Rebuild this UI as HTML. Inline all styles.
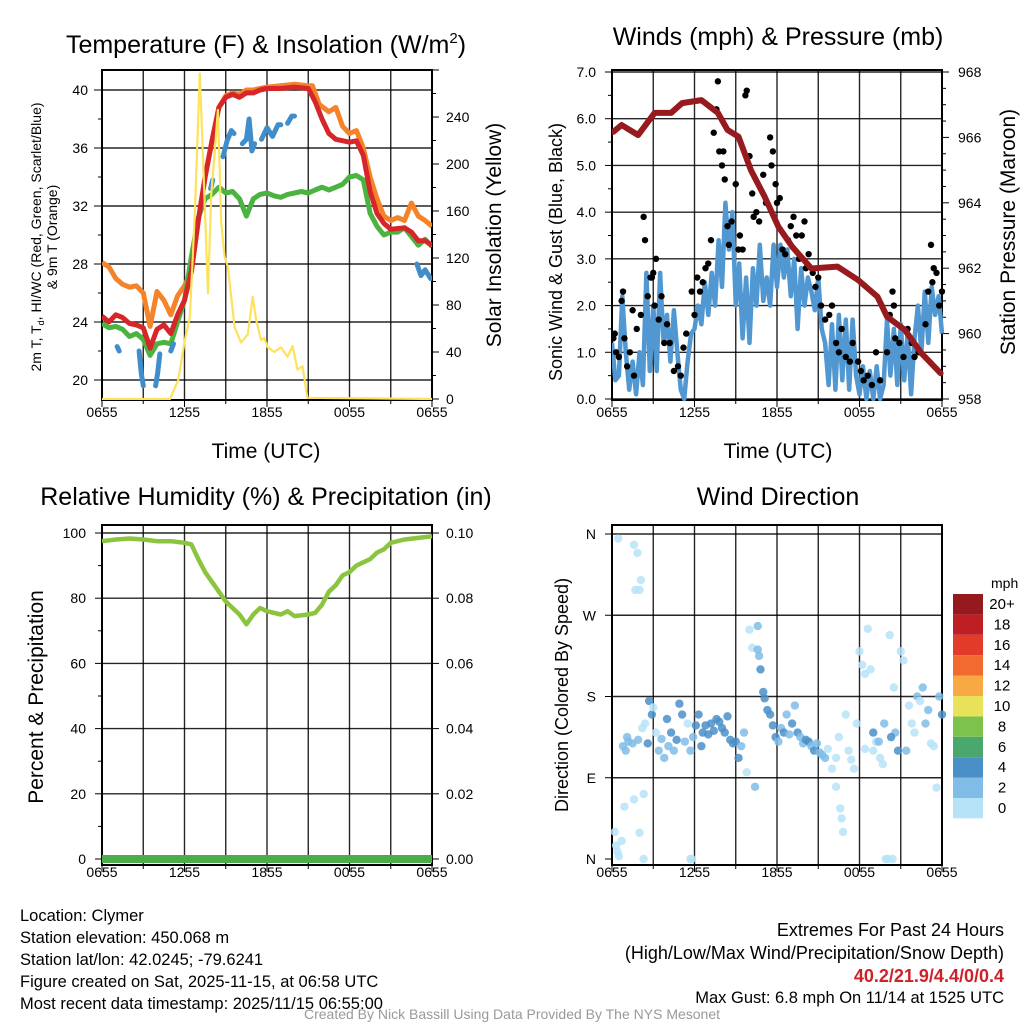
<!DOCTYPE html>
<html><head><meta charset="utf-8"><style>
html,body{margin:0;padding:0;background:#fff;width:1024px;height:1024px;overflow:hidden}
svg text{font-family:"Liberation Sans",Arial,sans-serif}
</style></head><body>
<svg id="c" width="1024" height="1024" viewBox="0 0 1024 1024" xmlns="http://www.w3.org/2000/svg">
<rect width="1024" height="1024" fill="#fff"/>
</svg>
<script>
// ===== Panel 1 data (hours since 0655 UTC) =====
const tempHours = [0,0.5,1,1.5,2,2.5,3,3.5,4,4.5,5,5.5,6,6.5,7,7.5,8,8.5,9,9.5,10,10.5,11,11.5,12,13,14,15,15.5,16,16.5,17,18,18.5,19,19.5,20,20.5,21,22,22.5,23,23.5,24];
const temp2m = [24.4,24.0,24.5,24.3,23.9,23.8,23.6,22.2,23.5,23.8,23.2,24.5,25.5,27.5,31,34,36.5,38.8,39.5,39.7,39.5,39.8,39.8,40.0,40.1,40.1,40.2,40.1,39.2,38,37.0,36.6,36.4,36.5,35.5,33,31.5,30.8,30.4,30.5,30.2,29.6,29.6,29.3];
const t9Hours = [0,0.5,1,1.5,2,2.5,3,3.5,4,4.5,5,5.5,6,6.5,7,7.5,8,8.5,9,9.5,10,10.5,11,11.5,12,13,14,15,15.3,15.8,16.5,17,17.5,18,18.5,19,19.5,20,20.5,21,21.5,22,22.5,23,23.5,24];
const temp9m = [28.1,27.8,27.0,26.6,26.4,26.5,26,23.7,26.1,25.5,24.5,25.8,26.5,27.5,31,34,36.5,38.8,39.6,39.8,39.7,40.0,40.0,40.1,40.2,40.3,40.4,40.3,40.3,39.0,38.5,38.8,37.5,37.0,37.2,36.0,34,32.5,31.3,31.0,31.2,31.0,32.2,31.3,31.0,30.6];
const dewHours = [0,0.5,1,1.5,2,2.5,3,3.5,4,4.5,5,5.5,6,6.5,7,7.5,8,8.5,9,9.5,10,10.5,11,11.5,12,12.5,13,13.5,14,14.5,15,15.5,16,16.5,17,17.5,18,18.5,19,19.5,20,20.5,21,21.5,22,22.5,23,23.5,24];
const dewpoint = [23.9,23.6,23.7,23.5,23.0,23.2,22.8,21.7,22.5,22.6,22.5,24,25.5,28.5,31.2,32.5,32.8,33.3,32.9,33,32.5,31.3,32.5,32.8,32.9,32.7,32.6,32.8,32.9,33.0,32.9,33.1,33.3,33.1,33.3,33.5,34.0,34.1,33.8,31.5,30.6,30.0,30.2,30.2,30.5,29.9,29.3,29.7,29.2];
const wcHours = [1.1,1.25,null,2.7,2.85,3.0,null,3.9,4.05,4.2,null,5.0,5.2,null,7.9,8.05,null,8.8,9.1,9.4,9.6,null,10.2,10.5,10.7,10.9,11.1,null,11.6,12.0,12.4,12.8,13.0,null,13.5,13.8,14.0,null,22.9,23.2,23.5,23.9];
const windchill = [22.3,22.0,null,22.0,20.5,19.6,null,19.6,20.5,21.8,null,22.0,22.5,null,33.2,33.8,null,35.4,36.5,37.2,37.0,null,36.3,36.6,38.0,35.8,36.3,null,36.6,37.4,36.8,37.6,37.6,null,37.7,38.2,38.2,null,28.0,27.2,27.6,27.0];
const solarHours = [0,4.94,5.54,6.02,6.39,6.75,7.11,7.35,7.71,7.95,8.19,8.43,8.67,8.92,9.16,9.64,10.12,10.6,10.96,11.2,11.57,11.8,12.05,12.53,13.01,13.49,13.86,14.22,14.58,14.94,24];
const solar = [0,0,16,50,70,158,277,203,90,175,209,246,150,121,112,61,48,55,87,68,50,52,44,40,44,36,45,25,28,1,0];
const tempTicks = [20,24,28,32,36,40];
const solarTicks = [0,40,80,120,160,200,240];
const timeTicks = ["0655","1255","1855","0055","0655"];
// ===== Panel 2 data =====
const windSpeed = [1.2,0.4,0.5,2.2,1.0,0.2,0.8,0.1,1.0,0.3,2.7,0.6,2.0,0.6,2.7,1.2,1.8,0.8,1.9,1.0,0.2,0.0,0.8,1.4,1.5,2.0,1.6,2.5,1.8,2.7,2.0,3.4,2.4,4.2,3.2,4.0,2.0,2.9,1.3,2.6,1.2,2.8,2.0,3.3,2.1,2.6,2.0,3.3,2.4,3.3,2.6,3.2,2.2,3.0,1.5,2.8,2.0,2.6,2.3,1.9,2.6,1.5,1.2,0.3,1.6,0.2,1.8,0.4,1.7,0.2,1.7,0.5,0.1,0.7,0.0,0.6,0.0,0.7,0.0,0.3,1.7,0.5,1.5,0.3,1.6,0.4,1.4,0.1,1.3,2.0,1.0,2.3,1.2,2.4,1.8,2.2,1.4];
const gustHours = [0.1,0.2,0.3,0.5,0.7,0.8,0.9,1.1,1.3,1.5,1.6,1.8,2.1,2.3,2.4,2.6,2.8,2.9,3.0,3.1,3.2,3.4,3.6,3.8,4.0,4.2,4.5,4.8,5.0,5.2,5.4,5.8,6.0,6.2,6.4,6.6,6.8,7.0,7.2,7.4,7.6,7.7,7.8,8.0,8.1,8.2,8.4,8.5,8.7,9.0,9.2,9.3,9.5,9.7,9.8,10.0,10.2,10.3,10.5,10.7,11.0,11.2,11.5,11.6,11.7,11.9,12.0,12.2,12.4,12.6,12.8,13.0,13.2,13.4,13.6,13.8,14.0,14.1,14.3,14.6,14.8,15.0,15.2,15.5,15.8,16.0,16.3,16.5,16.7,17.0,17.3,17.5,17.9,18.1,18.3,18.6,18.9,19.2,19.5,20.0,20.2,20.4,20.5,20.6,20.9,21.2,21.5,21.8,22.0,22.3,22.8,23.0,23.2,23.3,23.4,23.6,23.8,24.0];
const gustSpeed = [1.3,1.4,1.0,0.9,2.1,2.3,1.3,0.7,1.0,1.9,0.5,1.5,1.8,3.9,3.4,2.2,2.6,2.6,2.7,2.0,3.0,1.7,2.2,1.2,1.6,1.2,0.6,0.7,0.5,1.1,1.4,2.3,1.8,2.6,2.3,2.5,2.8,2.9,3.4,5.7,6.2,6.8,5.3,5.0,5.3,4.7,3.7,3.3,3.8,4.6,3.2,3.5,3.2,6.5,6.6,5.2,4.4,3.9,4.0,3.8,4.8,4.2,5.6,5.0,5.3,4.6,4.2,4.3,3.2,3.1,3.4,3.7,3.9,3.5,3.0,3.5,3.8,2.8,3.1,2.7,2.4,2.6,2.0,1.7,1.8,2.0,1.2,1.0,1.5,0.9,0.8,1.2,0.8,0.6,0.4,0.5,0.3,1.0,0.4,1.0,1.8,2.3,2.0,1.3,1.2,0.9,1.5,1.2,0.9,1.0,1.6,2.3,3.3,2.5,2.8,2.7,2.0,2.3];
const presHours = [0.1,0.7,1.9,3.1,4.3,5.1,6.5,7.7,8.4,9.2,10.1,11.1,12.1,13.1,14.5,16.4,17.9,19.3,20.0,21.3,22.5,23.9];
const pressure = [966.17,966.38,966.07,966.75,966.75,967.05,967.14,966.75,966.23,966.02,965.0,964.19,963.27,962.66,961.99,962.05,961.64,961.13,960.52,960.11,959.4,958.79];
const windTicks = ["0.0","1.0","2.0","3.0","4.0","5.0","6.0","7.0"];
const presTicks = [958,960,962,964,966,968];
// ===== Panel 3 data =====
const rhHours = [0,1,2,3,4,5,6,6.5,7,7.5,8,8.5,9,9.5,10,10.5,11,11.5,12,13,13.5,14,15,15.5,16,16.5,17,17.5,18,18.5,19,19.5,20,20.5,21,22,23,24];
const rh = [97.5,98,98.3,98,97.5,97.5,97,96.5,92,88,85,82,79,77,75,72,75,77,76,75,76,74.5,75,75.5,78,82,84,87,88,90,91,92,94,95,97,98,98.5,99];
const precip = [0,0];
const rhTicks = [0,20,40,60,80,100];
const precipTicks = ["0.00","0.02","0.04","0.06","0.08","0.10"];
// ===== Panel 4 data =====
const dirHours = [0.45,1.6,1.85,2.1,1.7,2.0,0.2,0.3,0.4,0.5,0.7,0.9,1.6,2.3,2.0,2.3,5.7,5.8,0.8,1.0,1.1,1.2,1.5,1.9,2.2,2.4,2.6,2.7,2.9,3.0,3.2,3.4,3.6,3.8,4.0,4.1,4.3,4.5,4.7,4.9,5.1,5.3,5.5,5.7,5.9,6.1,6.3,6.5,6.6,6.8,7.0,7.2,7.4,7.6,7.8,8.0,8.2,8.4,8.6,8.8,9.0,9.2,9.4,9.6,9.8,10.0,10.2,10.4,10.6,10.6,10.7,10.8,11.0,11.1,11.3,11.5,11.7,11.9,12.1,12.3,12.5,12.7,12.9,13.1,13.3,13.5,13.7,13.9,14.1,14.3,14.5,14.7,14.9,15.1,15.3,15.5,15.7,16.0,16.3,16.3,16.5,16.6,16.7,16.8,17.0,17.2,17.4,17.6,17.8,18.0,18.2,18.4,18.4,18.6,18.8,19.0,19.2,19.5,19.7,19.9,20.1,20.2,20.4,20.5,20.6,20.8,21.0,21.2,21.4,21.6,21.8,22.0,22.2,22.4,22.6,22.8,23.0,23.2,23.4,23.6,23.8,24.0,19.0,19.4,19.8,20.3];
const dirDeg = [355,348,339,309,298,298,30,15,8,3,20,58,66,72,29,0,0,0,125,120,135,130,128,132,145,150,128,175,160,168,140,120,133,112,155,125,140,120,132,172,160,130,150,120,135,148,160,125,140,148,138,150,142,155,152,145,140,158,132,128,130,112,125,140,96,254,234,80,258,232,225,210,185,178,165,160,148,135,130,145,140,160,138,150,170,140,135,128,132,130,125,120,128,118,115,112,122,100,80,112,135,56,45,30,160,120,110,100,150,230,215,205,122,255,210,120,130,112,105,0,0,248,0,190,140,120,230,220,120,170,150,140,180,175,190,150,165,128,125,79,180,160,140,130,150,135,0,0,0,0];
const dirSpeed = [0,0,0,0,0,0,0,0,0,0,0,0,0,0,0,0,0,0,1,1,1,1,1,1,0,0,2,2,2,0,0,1,1,1,2,1,2,1,2,2,2,1,0,1,1,2,2,2,2,2,2,2,2,2,2,2,2,2,2,2,2,2,1,1,0,0,0,1,1,1,1,2,2,2,2,2,2,2,1,1,2,1,1,2,1,2,1,1,2,2,1,2,1,1,1,1,0,0,0,0,0,0,0,0,0,0,0,0,0,0,0,0,0,0,0,0,0,0,0,0,0,0,0,0,1,2,0,0,1,0,0,0,1,0,1,1,1,0,0,0,1,2,2,1,1,2,0,0,0,0];
const dirLabels = ["N","E","S","W","N"];
const speedLabels = ["0","2","4","6","8","10","12","14","16","18","20+"];
const speedColors = ["#b6e3f8","#7fbce6","#4a8fc8","#4aa86e","#7dc24b","#e8e15a","#f8a944","#f26a2d","#e33b2a","#be1e24","#951a1d"];

// ===== helpers =====
const S = document.getElementById('c');
const NS = 'http://www.w3.org/2000/svg';
function el(tag, attrs, parent){const e=document.createElementNS(NS,tag);for(const k in attrs)e.setAttribute(k,attrs[k]);(parent||S).appendChild(e);return e;}
function txt(x,y,s,size,anchor,extra,parent){const t=el('text',Object.assign({x:x,y:y,'font-size':size,'text-anchor':anchor||'middle',fill:'#000'},extra||{}),parent);t.textContent=s;return t;}
function lin(d0,d1,r0,r1){return v=>r0+(v-d0)/(d1-d0)*(r1-r0);}
function pathFrom(xs,ys,fx,fy){let d='',pen=false;for(let i=0;i<xs.length;i++){if(xs[i]===null||ys[i]===null){pen=false;continue;}d+=(pen?'L':'M')+fx(xs[i]).toFixed(1)+','+fy(ys[i]).toFixed(1);pen=true;}return d;}

function frame(g,L,T,R,B,hGridYs){
  for(let i=1;i<8;i++){const x=L+(R-L)*i/8;const l=el('line',{x1:x,y1:T,x2:x,y2:B,stroke:'#000','stroke-width':1.4,opacity:0.85},g);}
  hGridYs.forEach(y=>{const l=el('line',{x1:L,y1:y,x2:R,y2:y,stroke:'#000','stroke-width':1.4,opacity:0.85},g);});
  const f=el('rect',{x:L,y:T,width:R-L,height:B-T,fill:'none',stroke:'#000','stroke-width':2},g);
  
}
function xTicks(g,L,R,B,ty){
  for(let i=0;i<=8;i++){const x=L+(R-L)*i/8;el('line',{x1:x,y1:B,x2:x,y2:B+(i%2?4:7),stroke:'#000','stroke-width':1},g);}
  timeTicks.forEach((s,i)=>{const t=txt(L+(R-L)*i/4,ty,s,14,'middle',{},g);});
}

// ===== Panel 1 =====
(function(){
  const g=el('g',{});
  const L=102,R=432,T=70,B=400;
  const fx=lin(0,24,L,R), fy=lin(20,40,380,90), fs=lin(0,240,399,117);
  frame(g,L,T,R,B,tempTicks.map(fy));
  tempTicks.forEach(v=>{el('line',{x1:L-8,y1:fy(v),x2:L,y2:fy(v),stroke:'#000'},g);const t=txt(88,fy(v)+5,String(v),14,'end',{},g);});
  for(let v=22;v<40;v+=4)el('line',{x1:L-4,y1:fy(v),x2:L,y2:fy(v),stroke:'#000'},g);
  for(let v=0;v<=280;v+=20){if(fs(v)<T)continue;el('line',{x1:R,y1:fs(v),x2:R+(v%40?4:7),y2:fs(v),stroke:'#000'},g);}
  solarTicks.forEach(v=>{const t=txt(446,fs(v)+5,String(v),14,'start',{},g);});
  xTicks(g,L,R,B,417);
  const clip=el('clipPath',{id:'cp1'},g);el('rect',{x:L,y:T,width:R-L,height:B-T},clip);
  const pg=el('g',{'clip-path':'url(#cp1)'},g);
  let p;
  p=el('path',{d:pathFrom(t9Hours,temp9m,fx,fy),fill:'none',stroke:'#f5832a','stroke-width':5,'stroke-linejoin':'round'},pg);
  
  p=el('path',{d:pathFrom(dewHours,dewpoint,fx,fy),fill:'none',stroke:'#4bb33f','stroke-width':5,'stroke-linejoin':'round'},pg);
  
  p=el('path',{d:pathFrom(tempHours,temp2m,fx,fy),fill:'none',stroke:'#d7262a','stroke-width':5,'stroke-linejoin':'round'},pg);
  
  p=el('path',{d:pathFrom(wcHours,windchill,fx,fy),fill:'none',stroke:'#3f8ecb','stroke-width':5,'stroke-linecap':'round','stroke-linejoin':'round'},pg);
  
  p=el('path',{d:pathFrom(solarHours,solar,fx,fs),fill:'none',stroke:'#fde25a','stroke-width':2.2,'stroke-linejoin':'round'},pg);
  
  let t=txt(266,53,'Temperature (F) & Insolation (W/m',25,'middle',{},g);
  const ts=el('tspan',{'font-size':15,dy:-10},t);ts.textContent='2';const ts2=el('tspan',{dy:10},t);ts2.textContent=')';
  t=txt(266,458,'Time (UTC)',21,'middle',{},g);
  t=txt(0,0,'',14,'middle',{transform:'translate(41,237) rotate(-90)'},g);
  t.textContent='2m T, T';const sub=el('tspan',{'font-size':9,dy:3},t);sub.textContent='d';const rest=el('tspan',{dy:-3},t);rest.textContent=', HI/WC (Red, Green, Scarlet/Blue)';
  t=txt(0,0,'& 9m T (Orange)',14,'middle',{transform:'translate(57,237) rotate(-90)'},g);
  t=txt(0,0,'Solar Insolation (Yellow)',21,'middle',{transform:'translate(501,235) rotate(-90)'},g);
})();

// ===== Panel 2 =====
(function(){
  const g=el('g',{});
  const L=612,R=942,T=70,B=400;
  const fx=lin(0,24,L,R), fy=lin(0,7,399,72), fp=lin(958,968,399,72);
  frame(g,L,T,R,B,windTicks.map(s=>fy(parseFloat(s))));
  windTicks.forEach(s=>{const v=parseFloat(s);el('line',{x1:L-7,y1:fy(v),x2:L,y2:fy(v),stroke:'#000'},g);const t=txt(596,fy(v)+5,s,14,'end',{},g);});
  for(let v=0.5;v<7;v+=1)el('line',{x1:L-4,y1:fy(v),x2:L,y2:fy(v),stroke:'#000'},g);
  for(let v=958;v<=968;v+=0.5)el('line',{x1:R,y1:fp(v),x2:R+(v%2?4:7),y2:fp(v),stroke:'#000'},g);
  presTicks.forEach(v=>{const t=txt(958,fp(v)+5,String(v),14,'start',{},g);});
  xTicks(g,L,R,B,417);
  const clip=el('clipPath',{id:'cp2'},g);el('rect',{x:L,y:T-4,width:R-L+4,height:B-T+8},clip);
  const pg=el('g',{'clip-path':'url(#cp2)'},g);
  const wh=windSpeed.map((v,i)=>i*0.25);
  let p=el('path',{d:pathFrom(wh,windSpeed,fx,fy),fill:'none',stroke:'#5197d1','stroke-width':4.5,'stroke-linejoin':'round'},pg);
  
  gustHours.forEach((h,i)=>{const c=el('circle',{cx:fx(h),cy:fy(gustSpeed[i]),r:3.2,fill:'#000'},pg);});
  p=el('path',{d:pathFrom(presHours,pressure,fx,fp),fill:'none',stroke:'#971b1e','stroke-width':6,'stroke-linejoin':'round','stroke-linecap':'round'},pg);
  
  let t=txt(778,45,'Winds (mph) & Pressure (mb)',25,'middle',{},g);
  t=txt(778,458,'Time (UTC)',21,'middle',{},g);
  t=txt(0,0,'Sonic Wind & Gust (Blue, Black)',18,'middle',{transform:'translate(562,252) rotate(-90)'},g);
  t=txt(0,0,'Station Pressure (Maroon)',21,'middle',{transform:'translate(1015,232) rotate(-90)'},g);
})();

// ===== Panel 3 =====
(function(){
  const g=el('g',{});
  const L=102,R=432,T=525,B=865;
  const fx=lin(0,24,L,R), fy=lin(0,100,859,533), fq=lin(0,0.1,859,533);
  frame(g,L,T,R,B,rhTicks.map(fy));
  rhTicks.forEach(v=>{el('line',{x1:L-7,y1:fy(v),x2:L,y2:fy(v),stroke:'#000'},g);const t=txt(86,fy(v)+5,String(v),14,'end',{},g);});
  for(let v=10;v<100;v+=20)el('line',{x1:L-4,y1:fy(v),x2:L,y2:fy(v),stroke:'#000'},g);
  precipTicks.forEach(s=>{const v=parseFloat(s);el('line',{x1:R,y1:fq(v),x2:R+7,y2:fq(v),stroke:'#000'},g);const t=txt(446,fq(v)+5,s,14,'start',{},g);});
  xTicks(g,L,R,B,877);
  let p=el('path',{d:pathFrom([0,24],precip,fx,fq),fill:'none',stroke:'#4aad4a','stroke-width':8},g);
  
  p=el('path',{d:pathFrom(rhHours,rh,fx,fy),fill:'none',stroke:'#8bc540','stroke-width':4.5,'stroke-linejoin':'round'},g);
  
  let t=txt(266,505,'Relative Humidity (%) & Precipitation (in)',25,'middle',{},g);
  t=txt(0,0,'Percent & Precipitation',21,'middle',{transform:'translate(43,697) rotate(-90)'},g);
})();

// ===== Panel 4 =====
(function(){
  const g=el('g',{});
  const L=612,R=942,T=525,B=865;
  const fx=lin(0,24,L,R), fy=lin(0,360,859,534);
  frame(g,L,T,R,B,[90,180,270,360].map(fy));
  dirLabels.forEach((s,i)=>{el('line',{x1:L-7,y1:fy(i*90),x2:L,y2:fy(i*90),stroke:'#000'},g);const t=txt(596,fy(i*90)+5,s,14,'end',{},g);});
  xTicks(g,L,R,B,877);
  dirHours.forEach((h,i)=>{const c=el('circle',{cx:fx(h),cy:fy(dirDeg[i]),r:4.2,fill:speedColors[dirSpeed[i]],opacity:0.85},g);});
  let t=txt(778,505,'Wind Direction',25,'middle',{},g);
  t=txt(0,0,'Direction (Colored By Speed)',18,'middle',{transform:'translate(568,695) rotate(-90)'},g);
  const cb=el('g',{},S);
  t=txt(991,588,'mph',14,'start',{},cb);
  speedLabels.forEach((s,i)=>{const y=798-i*20.4;const r=el('rect',{x:953,y:y,width:30,height:20.4,fill:speedColors[i]},cb);const l=txt(1002,y+15,s,15,'middle',{},cb);});
})();

// ===== Footer =====
(function(){
  const left=["Location: Clymer","Station elevation: 450.068 m","Station lat/lon: 42.0245; -79.6241","Figure created on Sat, 2025-11-15, at 06:58 UTC","Most recent data timestamp: 2025/11/15 06:55:00"];
  left.forEach((s,i)=>{const t=txt(20,921+i*22,s,16.5,'start');});
  let t=txt(1004,936,'Extremes For Past 24 Hours',18,'end');
  t=txt(1004,959,'(High/Low/Max Wind/Precipitation/Snow Depth)',18,'end');
  t=txt(1004,982,'40.2/21.9/4.4/0/0.4',18,'end',{fill:'#d0202a','font-weight':'bold'});
  t=txt(1004,1003,'Max Gust: 6.8 mph On 11/14 at 1525 UTC',16.5,'end');
  t=txt(512,1019,'Created By Nick Bassill Using Data Provided By The NYS Mesonet',14,'middle',{fill:'#999'});
})();
</script>
</body></html>
